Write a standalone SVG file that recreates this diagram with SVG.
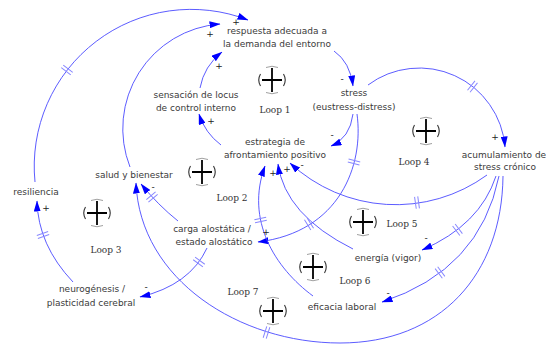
<svg xmlns="http://www.w3.org/2000/svg" width="546" height="346" viewBox="0 0 546 346">
<style>
.n{font-family:"DejaVu Sans",sans-serif;font-size:9px;fill:#3a3a3a;text-anchor:middle}
.lp{font-family:"DejaVu Serif",serif;font-size:9px;fill:#333;text-anchor:middle}
.s{font-family:"DejaVu Sans",sans-serif;font-size:9px;fill:#222;text-anchor:middle}
.c{fill:none;stroke:#4a4aff;stroke-width:0.9;marker-end:url(#ah)}
</style>
<defs>
<marker id="ah" markerWidth="11" markerHeight="7" refX="10.5" refY="3.5" orient="auto" markerUnits="userSpaceOnUse"><path d="M0,0 L11,3.5 L0,7 z" fill="#0000ff"/></marker>
<g id="dl"><path d="M-1.6,-6 V6 M1.6,-6 V6" fill="none" stroke="#8888ff" stroke-width="1"/></g>
<g id="ls">
<path d="M-10,0 H10 M0,-12 V12" stroke="#000" stroke-width="1.8"/>
<path d="M-11.5,-6 Q-15,0 -11.5,6 M11.5,-6 Q15,0 11.5,6" fill="none" stroke="#333" stroke-width="1.1"/>
<path d="M-6,-12.5 Q0,-15 6,-12.5 M-6,12.5 Q0,15 6,12.5" fill="none" stroke="#888" stroke-width="0.8"/>
</g>
</defs>
<rect width="546" height="346" fill="#fff"/>
<g id="connectors">
<path class="c" d="M35,182 A157,157 0 0 1 248,20"/>
<path class="c" d="M130,167 A105,105 0 0 1 220,24"/>
<path class="c" d="M200,88 Q204,66 222,52"/>
<path class="c" d="M221,145 Q205,133 199,114"/>
<path class="c" d="M334,51 Q350,62 353,86"/>
<path class="c" d="M353,114 Q350,138 331,146"/>
<path class="c" d="M368,85 A86,86 0 0 1 505,147"/>
<path class="c" d="M357,114 C364,165 340,232 258,242"/>
<path class="c" d="M487,175 A155,155 0 0 1 290,163"/>
<path class="c" d="M178,221 Q158,205 141,184"/>
<path class="c" d="M503,176 C502,275 440,343 340,343 C240,343 140,280 136,183"/>
<path class="c" d="M207,248 Q190,285 140,297"/>
<path class="c" d="M73,282 Q38,245 37,201"/>
<path class="c" d="M496,176 Q480,225 422,250"/>
<path class="c" d="M499,176 Q480,270 382,302"/>
<path class="c" d="M353,249 Q285,215 278,164"/>
<path class="c" d="M313,296 C275,268 245,220 265,166"/>
<use href="#dl" transform="translate(67,70) rotate(-52)"/>
<use href="#dl" transform="translate(354,162) rotate(104)"/>
<use href="#dl" transform="translate(309,224) rotate(148)"/>
<use href="#dl" transform="translate(472.5,86.6) rotate(38.5)"/>
<use href="#dl" transform="translate(417,202.6) rotate(172)"/>
<use href="#dl" transform="translate(152,197) rotate(-130)"/>
<use href="#dl" transform="translate(199,262) rotate(126)"/>
<use href="#dl" transform="translate(43,235) rotate(-109.5)"/>
<use href="#dl" transform="translate(457.5,229.8) rotate(143)"/>
<use href="#dl" transform="translate(440,272.5) rotate(143)"/>
<use href="#dl" transform="translate(266.5,332.5) rotate(-162.5)"/>
<use href="#dl" transform="translate(260.6,220) rotate(-101.6)"/>
<text class="s" x="236" y="25">+</text>
<text class="s" x="210" y="37">+</text>
<text class="s" x="219" y="69">+</text>
<text class="s" x="211" y="124">+</text>
<text class="s" x="342" y="82">-</text>
<text class="s" x="332" y="138">-</text>
<text class="s" x="495" y="140">+</text>
<text class="s" x="302" y="168">-</text>
<text class="s" x="273" y="176">+</text>
<text class="s" x="287" y="172">+</text>
<text class="s" x="266" y="235">+</text>
<text class="s" x="153" y="190">-</text>
<text class="s" x="146" y="290">-</text>
<text class="s" x="46" y="211">+</text>
<text class="s" x="426" y="241">-</text>
<text class="s" x="388" y="296">-</text>
</g>
<g id="respuesta"><text class="n" x="277" y="34">respuesta adecuada a</text><text class="n" x="277" y="47">la demanda del entorno</text></g>
<g id="stress"><text class="n" x="354" y="96">stress</text><text class="n" x="354" y="110">(eustress-distress)</text></g>
<g id="sensacion"><text class="n" x="196" y="98">sensación de locus</text><text class="n" x="196" y="111">de control interno</text></g>
<g id="estrategia"><text class="n" x="275" y="145">estrategia de</text><text class="n" x="275" y="158">afrontamiento positivo</text></g>
<g id="salud"><text class="n" x="134" y="178">salud y bienestar</text></g>
<g id="resiliencia"><text class="n" x="36" y="195">resiliencia</text></g>
<g id="carga"><text class="n" x="212" y="232">carga alostática /</text><text class="n" x="214" y="245">estado alostático</text></g>
<g id="neurogenesis"><text class="n" x="92" y="292">neurogénesis /</text><text class="n" x="91" y="306">plasticidad cerebral</text></g>
<g id="acumulamiento"><text class="n" x="504" y="158">acumulamiento de</text><text class="n" x="505" y="170">stress crónico</text></g>
<g id="energia"><text class="n" x="388" y="261">energía (vigor)</text></g>
<g id="eficacia"><text class="n" x="342" y="310">eficacia laboral</text></g>
<g id="loop1"><use href="#ls" x="272" y="80"/><text class="lp" x="275" y="113">Loop 1</text></g>
<g id="loop2"><use href="#ls" x="202" y="172"/><text class="lp" x="232" y="201">Loop 2</text></g>
<g id="loop3"><use href="#ls" x="97" y="213"/><text class="lp" x="106" y="253">Loop 3</text></g>
<g id="loop4"><use href="#ls" x="426" y="131"/><text class="lp" x="414" y="165">Loop 4</text></g>
<g id="loop5"><use href="#ls" x="363" y="222"/><text class="lp" x="402" y="227">Loop 5</text></g>
<g id="loop6"><use href="#ls" x="313" y="267"/><text class="lp" x="355" y="284">Loop 6</text></g>
<g id="loop7"><use href="#ls" x="273" y="311"/><text class="lp" x="243" y="295">Loop 7</text></g>
</svg>
